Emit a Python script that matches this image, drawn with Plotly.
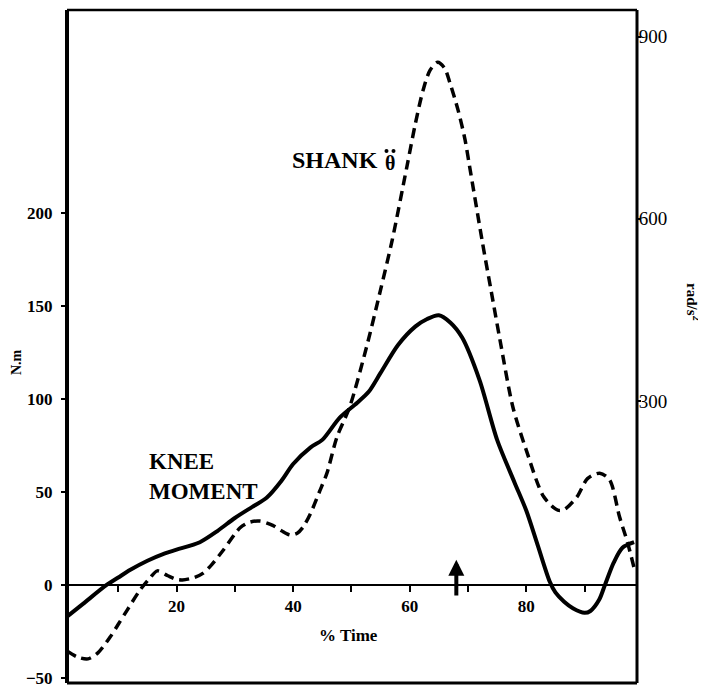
import plotly.graph_objects as go

# Knee moment (N.m, left axis)
time_knee = [1.2, 4, 8, 10, 12, 15, 18, 20, 24, 27, 30, 33, 35.5, 38, 40, 43, 45, 48, 51, 53, 55, 58, 61, 63, 65, 67, 69, 72, 75, 78, 80, 82, 84, 85, 86.5, 88, 90, 91, 92.5, 93.5, 95, 96.5, 98.5]
knee_moment = [-17, -10, 0, 4, 8, 13, 17, 19, 23, 29, 36, 42, 47, 56, 65, 74, 78, 90, 98, 104, 114, 129, 139, 143, 145, 141, 133, 110, 78, 55, 40, 21, 2, -4, -9, -12.5, -15, -14, -8, 0, 12, 20, 23]

# Shank angular acceleration (rad/s^2, right axis)
time_shank = [1.2, 3, 4.8, 6.5, 8.6, 10, 11.5, 13.7, 15.4, 16.7, 18.5, 20, 21, 23, 24.5, 26, 28, 30.9, 32.5, 34.3, 36.5, 38, 39.5, 40.7, 41.7, 43, 44.5, 45.8, 47.5, 49.7, 52.6, 55, 57, 59.5, 61, 62.3, 63.5, 64.8, 66, 66.9, 68.3, 69.5, 70.3, 72.5, 74, 75.5, 77.7, 80, 83, 85.4, 86.5, 88.7, 90.5, 92.6, 94.3, 96, 97.4, 98.6]
shank_acc = [-112, -122, -125, -115, -89, -68, -45, -12, 8, 20, 12, 6, 5, 9, 16, 30, 54, 91, 100, 102, 95, 86, 79, 82, 92, 115, 150, 181, 240, 290, 389, 483, 565, 685, 758, 812, 845, 858, 848, 824, 779, 730, 685, 560, 480, 400, 290, 219, 142, 120, 121, 142, 172, 181, 170, 109, 66, 21]

x_tickvals = [10, 20, 30, 40, 50, 60, 70, 80, 90]
x_ticktext = ["", "20", "", "40", "", "60", "", "80", ""]
left_tickvals = [-50, 0, 50, 100, 150, 200]
right_tickvals = [300, 600, 900]

arrow_time = 68
arrow_from = -6.5
arrow_to = 13.5

OFF = 8  # page body margin
W, H = 706 - OFF, 689 - OFF
ml, mr, mt, mb = 67 - OFF, 69, 10 - OFF, 6
y_range = [-52.7, 309.1]
y2_range = [-164.7, 944]
x_range = [1.2, 99]
zero_frac = (0 - y_range[0]) / (y_range[1] - y_range[0])

serif = "Liberation Serif"

fig = go.Figure()
fig.add_trace(go.Scatter(x=time_shank, y=shank_acc, yaxis="y2", mode="lines",
                         line=dict(color="black", width=3.5, dash="10px,6px", shape="spline", smoothing=0.8),
                         showlegend=False, hoverinfo="skip"))
fig.add_trace(go.Scatter(x=time_knee, y=knee_moment, mode="lines",
                         line=dict(color="black", width=4, shape="spline", smoothing=0.8),
                         showlegend=False, hoverinfo="skip"))

fig.update_layout(
    width=W, height=H,
    margin=dict(l=ml, r=mr, t=mt, b=mb),
    paper_bgcolor="white", plot_bgcolor="white",
    font=dict(family=serif, color="black"),
    xaxis=dict(range=x_range, anchor="free", position=zero_frac, showline=True, linecolor="black", linewidth=1.5,
               tickvals=x_tickvals, ticktext=x_ticktext, ticks="outside", ticklen=6, tickwidth=1.5, tickcolor="black",
               tickfont=dict(family=serif, size=17, color="black", weight="bold"),
               showgrid=False, zeroline=False),
    yaxis=dict(range=y_range, tickvals=left_tickvals, ticks="outside", ticklen=5, tickwidth=1.5, tickcolor="black",
               tickfont=dict(family=serif, size=17, color="black", weight="bold"), ticklabelstandoff=5,
               showgrid=False, zeroline=False, showline=False),
    yaxis2=dict(range=y2_range, overlaying="y", side="right", tickvals=right_tickvals, ticks="outside", ticklen=3,
                tickwidth=1.5, tickcolor="black", tickfont=dict(family=serif, size=19, color="black"),
                ticklabelstandoff=-6, showgrid=False, zeroline=False, showline=False),
)

# frame
for (x0, y0, x1, y1, w) in [(0, 0, 0, 1, 4), (1, 0, 1, 1, 3), (0, 1, 1, 1, 2.5), (0, 0, 1, 0, 3)]:
    fig.add_shape(type="line", xref="paper", yref="paper", x0=x0, y0=y0, x1=x1, y1=y1,
                  line=dict(color="black", width=w))

PW, PH = W - ml - mr, H - mt - mb

def px_to_paper(px, py):
    # px, py in screenshot pixels
    return (px - OFF - ml) / PW, (H - mb - (py - OFF)) / PH

ann = []
x, y = px_to_paper(348, 635)
ann.append(dict(x=x, y=y, text="<b>% Time</b>", xanchor="center", font=dict(size=17)))
x, y = px_to_paper(17, 362)
ann.append(dict(x=x, y=y, text="<b>N.m</b>", xanchor="center", textangle=-90, font=dict(size=14)))
x, y = px_to_paper(693, 302)
ann.append(dict(x=x, y=y, text="<b>rad/s<sup>2</sup></b>", xanchor="center", textangle=90, font=dict(size=15)))
x, y = px_to_paper(290, 160)
ann.append(dict(x=x, y=y, text="<b>SHANK</b>", xanchor="left", font=dict(size=24)))
x, y = px_to_paper(390, 163)
ann.append(dict(x=x, y=y, text="<b>θ</b>", xanchor="center", font=dict(size=20)))
x, y = px_to_paper(147, 476)
ann.append(dict(x=x, y=y, text="<b>KNEE<br>MOMENT</b>", xanchor="left", align="left", font=dict(size=23)))
for a in ann:
    a.update(xref="paper", yref="paper", showarrow=False, yanchor="middle")
    a["font"].update(family=serif, color="black")
    fig.add_annotation(**a)

# the two dots of the theta double-dot
for dx in (386.5, 393.5):
    cx, cy = px_to_paper(dx, 151)
    rx, ry = 2.0 / PW, 2.0 / PH
    fig.add_shape(type="circle", xref="paper", yref="paper", x0=cx - rx, x1=cx + rx, y0=cy - ry, y1=cy + ry,
                  fillcolor="black", line=dict(width=0))

fig.add_annotation(x=arrow_time, y=arrow_to, ax=arrow_time, ay=arrow_from, xref="x", yref="y", axref="x", ayref="y",
                   text="", showarrow=True, arrowhead=2, arrowwidth=4, arrowsize=0.8, arrowcolor="black", standoff=0)

fig.write_html("out.html")
